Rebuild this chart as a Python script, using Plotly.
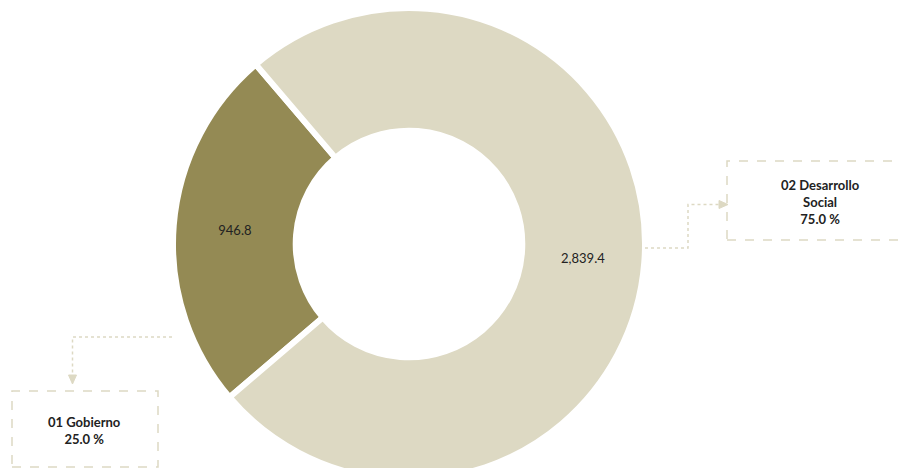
import plotly.graph_objects as go

categories = ["01 Gobierno", "02 Desarrollo Social"]
values = [946.8, 2839.4]
colors = ["#948A54", "#DDD9C3"]

W, H = 900, 488
total = sum(values)
pcts = [v / total * 100 for v in values]


def X(px):
    return px / W


def Y(py):
    return 1 - py / H


fig = go.Figure()
fig.add_trace(go.Pie(
    labels=categories,
    values=values,
    sort=False,
    direction="clockwise",
    rotation=229.5,
    hole=0.48,
    marker=dict(colors=colors, line=dict(color="#FFFFFF", width=6)),
    texttemplate="%{value:,.1f}",
    textposition="inside",
    insidetextorientation="horizontal",
    textfont=dict(family="Lato", size=13, color="#222222"),
    hoverinfo="label+value+percent",
    showlegend=False,
    domain=dict(x=[X(409 - 236), X(409 + 236)], y=[Y(480), Y(8)]),
))

line_col = "#DDD9C3"
shapes = [
    # boxes
    dict(type="rect", xref="paper", yref="paper", x0=X(727), x1=X(914), y0=Y(240), y1=Y(161),
         line=dict(color=line_col, width=1.5, dash="dash"), fillcolor="rgba(0,0,0,0)"),
    dict(type="rect", xref="paper", yref="paper", x0=X(12), x1=X(158), y0=Y(467), y1=Y(391),
         line=dict(color=line_col, width=1.5, dash="dash"), fillcolor="rgba(0,0,0,0)"),
    # leader lines
    dict(type="path", xref="paper", yref="paper",
         path=f"M {X(645)},{Y(248)} L {X(688)},{Y(248)} L {X(688)},{Y(204.5)} L {X(720)},{Y(204.5)}",
         line=dict(color=line_col, width=1.5, dash="dot")),
    dict(type="path", xref="paper", yref="paper",
         path=f"M {X(172)},{Y(337)} L {X(72.5)},{Y(337)} L {X(72.5)},{Y(376)}",
         line=dict(color=line_col, width=1.5, dash="dot")),
    # arrow heads
    dict(type="path", xref="paper", yref="paper",
         path=f"M {X(719)},{Y(200.5)} L {X(728)},{Y(204.5)} L {X(719)},{Y(208.5)} Z",
         line=dict(color=line_col, width=1), fillcolor=line_col),
    dict(type="path", xref="paper", yref="paper",
         path=f"M {X(68.5)},{Y(375)} L {X(72.5)},{Y(384)} L {X(76.5)},{Y(375)} Z",
         line=dict(color=line_col, width=1), fillcolor=line_col),
]

annotations = [
    dict(x=X(820), y=Y(202), xref="paper", yref="paper", showarrow=False,
         text=f"<b>02 Desarrollo<br>Social<br>{pcts[1]:.1f} %</b>",
         font=dict(family="Lato", size=13, color="#222222"), align="center",
         xanchor="center", yanchor="middle"),
    dict(x=X(84.5), y=Y(430), xref="paper", yref="paper", showarrow=False,
         text=f"<b>01 Gobierno<br>{pcts[0]:.1f} %</b>",
         font=dict(family="Lato", size=13, color="#222222"), align="center",
         xanchor="center", yanchor="middle"),
]

fig.update_layout(
    width=W, height=H,
    margin=dict(l=0, r=0, t=0, b=0),
    paper_bgcolor="#FFFFFF",
    plot_bgcolor="#FFFFFF",
    font=dict(family="Lato", size=13, color="#222222"),
    shapes=shapes,
    annotations=annotations,
    showlegend=False,
)

fig.write_html(
    "out.html",
    config={"displayModeBar": False},
    post_script="document.documentElement.style.overflow='hidden';"
                "document.body.style.overflow='hidden';"
                "document.body.style.margin='0';",
)
